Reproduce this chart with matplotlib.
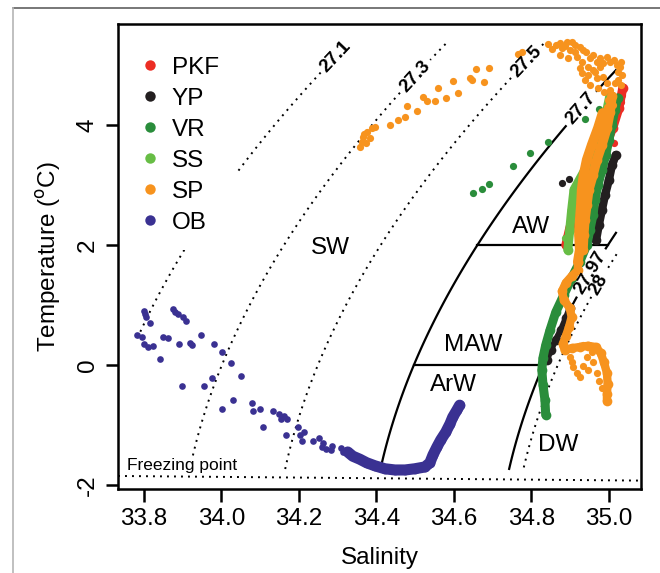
import numpy as np
import matplotlib
matplotlib.use('Agg')
import matplotlib.pyplot as plt
from matplotlib.lines import Line2D
from matplotlib.patches import Rectangle

plt.rcParams['font.family'] = ['Liberation Sans', 'DejaVu Sans']
plt.rcParams['axes.unicode_minus'] = False

# ---- station data (salinity, potential temperature) ----
stations = ['PKF', 'YP', 'VR', 'SS', 'SP', 'OB']
colors = ['#ec2d24', '#231f20', '#2a8d3b', '#67bd45', '#f7931e', '#3a3192']

# PKF
pkf_s = [34.889, 34.899, 34.915, 34.938, 34.964, 34.990, 35.010, 35.026, 35.036]
pkf_t = [2.00, 2.28, 2.62, 2.95, 3.28, 3.62, 3.95, 4.28, 4.62]
pkf_dot_s = [34.889, 34.897, 35.034, 35.031, 35.013, 34.964]
pkf_dot_t = [2.13, 2.27, 4.50, 4.38, 3.70, 2.63]

# YP
yp_s = [34.967, 34.974, 34.982, 34.990, 35.000, 35.008, 35.018]
yp_t = [2.08, 2.33, 2.58, 2.83, 3.08, 3.33, 3.50]
yp_low_s = [34.840, 34.850, 34.863, 34.876, 34.889, 34.899]
yp_low_t = [0.08, 0.25, 0.42, 0.58, 0.78, 0.95]
yp_dot_s = [34.879, 34.897]
yp_dot_t = [3.03, 3.10]

# VR
vr_s = [34.837, 34.835, 34.830, 34.827, 34.830, 34.837, 34.848, 34.863, 34.884,
        34.904, 34.925, 34.943, 34.951, 34.959, 34.964, 34.972, 34.982, 34.992,
        35.000, 35.008, 35.015, 35.023]
vr_t = [-0.83, -0.58, -0.33, -0.08, 0.12, 0.33, 0.58, 0.88, 1.17,
        1.45, 1.72, 2.00, 2.25, 2.50, 2.75, 3.00, 3.25, 3.50,
        3.75, 4.00, 4.25, 4.45]
vr_dot_s = [34.649, 34.672, 34.690, 34.752, 34.796, 34.843, 34.938, 34.974]
vr_dot_t = [2.87, 2.93, 3.02, 3.32, 3.53, 3.72, 4.10, 4.27]

# SS
ss_s = [34.894, 34.899, 34.904, 34.910, 34.938, 34.964, 34.984, 34.995, 35.003]
ss_t = [1.92, 2.25, 2.58, 2.92, 3.25, 3.58, 3.92, 4.25, 4.50]
ss_dot_s = [34.886, 34.899]
ss_dot_t = [2.12, 2.30]

# SP
sp_a_s = [34.984, 34.972, 34.956, 34.943, 34.935, 34.930, 34.928, 34.925, 34.923, 34.925, 34.920]
sp_a_t = [4.20, 3.95, 3.67, 3.42, 3.17, 2.92, 2.67, 2.42, 2.17, 1.92, 1.72]
sp_b_s = [35.008, 35.003, 34.995, 34.982, 34.969, 34.959, 34.948, 34.943, 34.938, 34.935, 34.933]
sp_b_t = [4.48, 4.22, 3.95, 3.67, 3.42, 3.17, 2.92, 2.67, 2.42, 2.17, 1.92]
sp_low_s = [34.920, 34.920, 34.904, 34.889, 34.879, 34.884, 34.899, 34.904, 34.897, 34.889,
            34.881, 34.886, 34.904, 34.925, 34.946, 34.966, 34.979, 34.987, 34.995, 34.997,
            34.995, 34.995]
sp_low_t = [1.72, 1.58, 1.48, 1.37, 1.23, 1.08, 0.95, 0.80, 0.63, 0.48,
            0.35, 0.25, 0.28, 0.30, 0.32, 0.30, 0.20, 0.05, -0.13, -0.32,
            -0.48, -0.60]
sp_dot_s = [34.357, 34.365, 34.375, 34.388, 34.396, 34.383, 34.362, 34.368, 34.373,
            34.435, 34.455, 34.474, 34.479, 34.504, 34.520, 34.530, 34.551, 34.559,
            34.579, 34.597, 34.610, 34.641, 34.646, 34.657, 34.677, 34.690, 34.765,
            34.775,
            34.843, 34.853, 34.874, 34.892, 34.905, 34.879, 34.899, 34.925, 34.933,
            34.917, 34.930, 34.951, 34.969, 34.984, 35.003, 35.021, 35.023, 35.028,
            34.946, 34.959, 34.977, 34.925, 34.930, 34.946, 34.969, 34.984, 34.995,
            35.003, 35.015, 35.023, 35.008, 34.997, 34.995, 34.984,
            34.863, 34.886, 34.912, 34.941, 34.959, 34.977, 34.995, 35.013, 35.031,
            35.034, 35.031, 34.964, 34.951, 34.972, 34.987, 35.010, 34.938, 34.912,
            34.894, 34.874,
            34.943, 34.933, 34.917, 34.907, 34.925, 34.946, 34.959, 34.969, 34.974,
            34.982, 34.899, 34.904, 34.933, 34.956]
sp_dot_t = [3.63, 3.80, 3.88, 3.95, 3.97, 3.78, 3.72, 3.85, 3.70,
            4.00, 4.08, 4.13, 4.32, 4.23, 4.47, 4.40, 4.40, 4.62,
            4.45, 4.73, 4.53, 4.78, 4.75, 4.93, 4.72, 4.95, 5.18,
            5.22,
            5.35, 5.27, 5.37, 5.38, 5.38, 5.28, 5.25, 5.30, 5.25,
            5.13, 5.05, 5.12, 5.05, 5.03, 5.05, 5.00, 4.88, 4.97,
            4.97, 4.92, 4.97, 4.95, 4.87, 4.83, 4.78, 4.80, 4.70,
            4.58, 4.70, 4.75, 4.50, 4.42, 4.30, 4.20,
            5.33, 5.32, 5.33, 5.22, 5.17, 5.12, 5.13, 5.08, 5.05,
            4.83, 4.67, 4.88, 4.67, 4.62, 4.55, 4.33, 4.75, 5.22,
            5.12, 5.17,
            0.13, -0.02, -0.13, -0.03, -0.20, -0.08, 0.05, -0.13, -0.27,
            -0.38, 0.13, 0.05, 0.33, 0.22]

# OB
ob_s = [34.326, 34.339, 34.357, 34.375, 34.396, 34.422, 34.448, 34.474, 34.499,
        34.525, 34.538, 34.546, 34.556, 34.566, 34.579, 34.590, 34.597, 34.608, 34.615]
ob_t = [-1.45, -1.52, -1.57, -1.63, -1.68, -1.73, -1.75, -1.75, -1.73,
        -1.70, -1.63, -1.50, -1.37, -1.25, -1.12, -0.98, -0.87, -0.75, -0.67]
ob_dot_s = [33.800, 33.803, 33.805, 33.815, 33.782, 33.795, 33.800, 33.810, 33.823,
            33.841, 33.849, 33.862, 33.875, 33.880, 33.888, 33.901, 33.908, 33.890,
            33.919, 33.924, 33.947, 33.981, 34.001, 34.025, 34.050, 33.975, 33.955,
            33.898, 34.001, 34.030, 34.079, 34.081, 34.099, 34.107, 34.133, 34.148,
            34.154, 34.161, 34.169, 34.166, 34.197, 34.203, 34.213, 34.208, 34.236,
            34.252, 34.262, 34.259, 34.270, 34.283, 34.285, 34.308, 34.314]
ob_dot_t = [0.90, 0.85, 0.80, 0.70, 0.50, 0.47, 0.35, 0.30, 0.32,
            0.10, 0.47, 0.45, 0.93, 0.88, 0.85, 0.80, 0.73, 0.35,
            0.37, 0.33, 0.50, 0.35, 0.22, 0.03, -0.18, -0.22, -0.35,
            -0.35, -0.73, -0.58, -0.63, -0.77, -0.73, -1.03, -0.77, -0.82,
            -0.90, -0.85, -0.90, -1.17, -1.03, -1.17, -1.12, -1.27, -1.27,
            -1.22, -1.30, -1.37, -1.40, -1.42, -1.35, -1.38, -1.45]

# isopycnals and water mass boundaries
dotted_levels = [27.1, 27.3, 27.5, 28.0]
solid_levels = [27.7, 27.97]
mass_names = ['SW', 'AW', 'MAW', 'ArW', 'DW']
mass_s = [34.28, 34.80, 34.65, 34.60, 34.87]
mass_t = [1.95, 2.30, 0.33, -0.33, -1.33]
boundary_t = [2.0, 0.0]


def sigma_theta(s, t):
    # UNESCO (1981) density at surface pressure
    rho_w = (999.842594 + 6.793952e-2 * t - 9.095290e-3 * t**2 + 1.001685e-4 * t**3
             - 1.120083e-6 * t**4 + 6.536332e-9 * t**5)
    a = 8.24493e-1 - 4.0899e-3 * t + 7.6438e-5 * t**2 - 8.2467e-7 * t**3 + 5.3875e-9 * t**4
    b = -5.72466e-3 + 1.0227e-4 * t - 1.6546e-6 * t**2
    c = 4.8314e-4
    return rho_w + a * s + b * s**1.5 + c * s**2 - 1000.0


def freezing_t(s):
    return -0.0575 * s + 1.710523e-3 * s**1.5 - 2.154996e-4 * s**2


def iso_salinity(level, t):
    s = np.linspace(33.0, 36.0, 3001)
    return np.interp(level, sigma_theta(s, t), s)


fig = plt.figure(figsize=(6.6, 5.73), dpi=100)
ax = fig.add_axes([0.1788, 0.1466, 0.7924, 0.8115])
xlim = (33.733, 35.083)
ax.set_xlim(*xlim)
ax.set_ylim(-2.067, 5.683)

sg, tg = np.meshgrid(np.linspace(33.78, 35.02, 400), np.linspace(-1.75, 5.35, 400))
dens = sigma_theta(sg, tg)
dots = (0, (1, 2.6))
cs_dot = ax.contour(sg, tg, dens, levels=dotted_levels, colors='black',
                    linewidths=1.4, linestyles=[dots] * len(dotted_levels))
cs_sol = ax.contour(sg, tg, dens, levels=solid_levels, colors='black',
                    linewidths=1.6, linestyles='-')
lab_kw = dict(inline=True, inline_spacing=4, fontsize=13.5, fmt=lambda v: f'{v:g}')
labels = ax.clabel(cs_dot, manual=[(34.306, 5.08), (34.505, 4.78), (34.788, 5.05),
                                   (34.977, 1.33)], **lab_kw)
labels += ax.clabel(cs_sol, manual=[(34.933, 4.25), (34.950, 1.55)], **lab_kw)
for txt in labels:
    txt.set_fontweight('bold')
    txt.set_zorder(4)

# AW / MAW boundaries
for tb in boundary_t:
    ax.plot([iso_salinity(27.7, tb), iso_salinity(27.97, tb)], [tb, tb],
            color='black', lw=1.6, zorder=2)

# freezing point
sf = np.linspace(xlim[0], xlim[1], 100)
ax.plot(sf, freezing_t(sf), color='black', lw=1.4, ls=dots)
ax.text(33.757, -1.80, 'Freezing point', fontsize=12.5, ha='left', va='bottom',
        bbox=dict(facecolor='white', edgecolor='none', pad=0), zorder=2.2)

for name, s, t in zip(mass_names, mass_s, mass_t):
    ax.text(s, t, name, fontsize=17.5, ha='center', va='center', zorder=2)

# station profiles, plotted in legend order
trace_kw = dict(marker='o', ms=7, mec='none', solid_capstyle='round',
                solid_joinstyle='round', zorder=3)
dot_kw = dict(ls='none', marker='o', ms=5.2, mec='none', zorder=3)
c = dict(zip(stations, colors))
ax.plot(pkf_s, pkf_t, color=c['PKF'], lw=6.5, **trace_kw)
ax.plot(pkf_dot_s, pkf_dot_t, color=c['PKF'], **dot_kw)
ax.plot(yp_s, yp_t, color=c['YP'], lw=6, **trace_kw)
ax.plot(yp_low_s, yp_low_t, color=c['YP'], lw=4.5, **trace_kw)
ax.plot(yp_dot_s, yp_dot_t, color=c['YP'], **dot_kw)
ax.plot(vr_s, vr_t, color=c['VR'], lw=6.5, **trace_kw)
ax.plot(vr_dot_s, vr_dot_t, color=c['VR'], **dot_kw)
ax.plot(ss_s, ss_t, color=c['SS'], lw=6.5, **trace_kw)
ax.plot(ss_dot_s, ss_dot_t, color=c['SS'], **dot_kw)
ax.plot(sp_a_s, sp_a_t, color=c['SP'], lw=7, **trace_kw)
ax.plot(sp_b_s, sp_b_t, color=c['SP'], lw=7, **trace_kw)
ax.plot(sp_low_s, sp_low_t, color=c['SP'], lw=6, **trace_kw)
ax.plot(sp_dot_s, sp_dot_t, color=c['SP'], **dot_kw)
ax.plot(ob_s, ob_t, color=c['OB'], lw=8, **trace_kw)
ax.plot(ob_dot_s, ob_dot_t, color=c['OB'], ms=4.8, ls='none', marker='o', mec='none', zorder=3)

# legend on a white panel
ax.add_patch(Rectangle((0, 0.514), 0.2275, 0.48, transform=ax.transAxes,
                       facecolor='white', edgecolor='none', zorder=2.1))
handles = [Line2D([], [], ls='none', marker='o', ms=7.5, mec='none', color=col)
           for col in colors]
ax.legend(handles, stations, loc='upper left', bbox_to_anchor=(0.038, 0.93),
          frameon=False, fontsize=17.5, borderpad=0, borderaxespad=0,
          handlelength=1.0, handletextpad=0.4, labelspacing=0.37)

ax.set_xticks([33.8, 34.0, 34.2, 34.4, 34.6, 34.8, 35.0])
ax.set_xticklabels(['33.8', '34.0', '34.2', '34.4', '34.6', '34.8', '35.0'])
ax.set_yticks([-2, 0, 2, 4])
ax.tick_params(direction='out', length=9, width=1.8, labelsize=17.5, pad=5)
for lbl in ax.get_yticklabels():
    lbl.set_rotation(90)
    lbl.set_va('center')
for sp in ax.spines.values():
    sp.set_linewidth(1.8)
ax.set_xlabel('Salinity', fontsize=17.5, labelpad=12)
ax.set_ylabel('Temperature ($^{\\mathrm{o}}$C)', fontsize=17.5, labelpad=10)

# outer frame lines
fig.add_artist(Line2D([0.0197, 1.0], [0.986, 0.986], color='#606060', lw=1.2))
fig.add_artist(Line2D([0.0197, 0.0197], [0.0, 0.986], color='#b5b5b5', lw=1.2))

fig.savefig('out.png', dpi=100)
